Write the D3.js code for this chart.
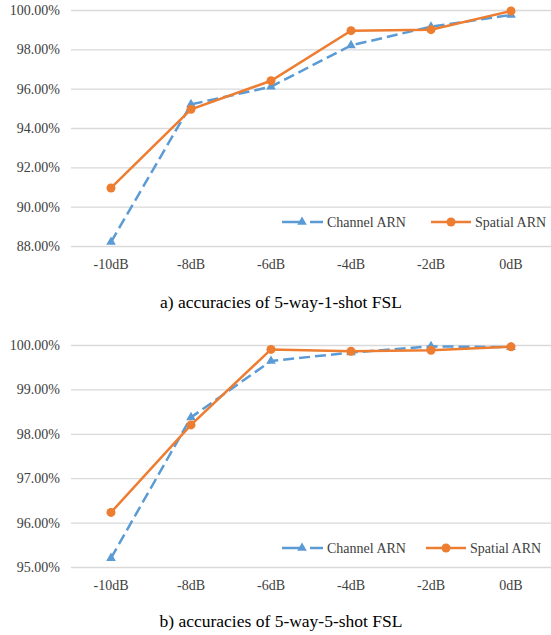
<!DOCTYPE html>
<html>
<head>
<meta charset="utf-8">
<script src="https://cdn.jsdelivr.net/npm/d3@7"></script>
<style>
  body { margin: 0; background: #fff; }
  svg { display: block; }
  svg text { font-family: "Liberation Serif", "DejaVu Serif", serif !important; }
  .grid line { stroke: #d9d9d9; stroke-width: 1.3; }
  .grid .domain { display: none; }
  .tick text { fill: #404040; font-size: 14px; }
</style>
</head>
<body>
<svg id="svg" width="551" height="635"></svg>
<script>
/* global d3 */

const snrLabels = ["-10dB", "-8dB", "-6dB", "-4dB", "-2dB", "0dB"];

// a) 5-way-1-shot
const channelOneShot = [88.2, 95.2, 96.1, 98.2, 99.15, 99.75];
const spatialOneShot = [90.95, 94.95, 96.4, 98.95, 99.0, 99.95];
const oneShotTicks = [88, 90, 92, 94, 96, 98, 100];

// b) 5-way-5-shot
const channelFiveShot = [95.2, 98.37, 99.64, 99.83, 99.97, 99.95];
const spatialFiveShot = [96.23, 98.2, 99.9, 99.86, 99.88, 99.96];
const fiveShotTicks = [95, 96, 97, 98, 99, 100];

const blue = "#5b9bd5";
const orange = "#ed7d31";

let svg = d3.select("#svg");

const x = d3.scaleBand().domain(snrLabels).range([71, 551]);

const drawPanel = (opts) => {
  const g = svg.append("g");
  const y = d3.scaleLinear().domain(opts.domain).range(opts.range);

  // horizontal gridlines
  g.append("g")
    .attr("class", "grid")
    .attr("transform", "translate(71,0)")
    .call(d3.axisLeft(y).tickValues(opts.ticks).tickSize(-480).tickFormat(""));

  // y labels
  g.append("g")
    .attr("transform", "translate(60,0)")
    .call(d3.axisLeft(y).tickValues(opts.ticks).tickSize(0).tickPadding(0)
      .tickFormat(d => d.toFixed(2) + "%"))
    .call(a => a.select(".domain").remove());

  // x labels
  g.append("g")
    .attr("transform", `translate(0,${opts.range[0]})`)
    .call(d3.axisBottom(x).tickSize(0).tickPadding(13))
    .call(a => a.select(".domain").remove());

  const line = d3.line()
    .x((d, i) => x(snrLabels[i]) + x.bandwidth() / 2)
    .y(d => y(d));

  // channel ARN - dashed, triangles
  g.append("path")
    .attr("d", line(opts.channel))
    .attr("fill", "none")
    .attr("stroke", blue)
    .attr("stroke-width", 2.5)
    .attr("stroke-dasharray", "11,5");

  g.selectAll(".tri")
    .data(opts.channel)
    .join("path")
    .attr("class", "tri")
    .attr("d", d3.symbol(d3.symbolTriangle, 40))
    .attr("transform", (d, i) => `translate(${x(snrLabels[i]) + x.bandwidth() / 2},${y(d)})`)
    .attr("fill", blue);

  // spatial ARN - solid, circles
  g.append("path")
    .attr("d", line(opts.spatial))
    .attr("fill", "none")
    .attr("stroke", orange)
    .attr("stroke-width", 2.5);

  g.selectAll(".dot")
    .data(opts.spatial)
    .join("circle")
    .attr("class", "dot")
    .attr("cx", (d, i) => x(snrLabels[i]) + x.bandwidth() / 2)
    .attr("cy", d => y(d))
    .attr("r", 4.5)
    .attr("fill", orange);

  // legend
  const lg = g.append("g").attr("transform", `translate(0,${opts.legendY})`);
  lg.append("line").attr("x1", 282).attr("x2", 304).attr("y1", 0).attr("y2", 0)
    .attr("stroke", blue).attr("stroke-width", 2.5);
  lg.append("line").attr("x1", 310).attr("x2", 323).attr("y1", 0).attr("y2", 0)
    .attr("stroke", blue).attr("stroke-width", 2.5);
  lg.append("path").attr("d", d3.symbol(d3.symbolTriangle, 40))
    .attr("transform", "translate(302,0)").attr("fill", blue);
  lg.append("text").attr("x", 327).attr("y", 5).attr("font-size", 14)
    .attr("fill", "#404040").text("Channel ARN");

  lg.append("line").attr("x1", opts.orangeX).attr("x2", opts.orangeX + 40)
    .attr("y1", 0).attr("y2", 0)
    .attr("stroke", orange).attr("stroke-width", 2.5);
  lg.append("circle").attr("cx", opts.orangeX + 20).attr("cy", 0).attr("r", 4.5)
    .attr("fill", orange);
  lg.append("text").attr("x", opts.orangeX + 44).attr("y", 5).attr("font-size", 14)
    .attr("fill", "#404040").text("Spatial ARN");

  // caption
  svg.append("text")
    .attr("x", 281)
    .attr("y", opts.captionY)
    .attr("text-anchor", "middle")
    .attr("font-size", 17.5)
    .attr("fill", "#000")
    .text(opts.caption);
};

drawPanel({
  domain: [88, 100], range: [246, 10], ticks: oneShotTicks,
  channel: channelOneShot, spatial: spatialOneShot,
  legendY: 222, orangeX: 431, captionY: 308,
  caption: "a) accuracies of 5-way-1-shot FSL"
});

drawPanel({
  domain: [95, 100], range: [567, 345], ticks: fiveShotTicks,
  channel: channelFiveShot, spatial: spatialFiveShot,
  legendY: 548, orangeX: 426, captionY: 627,
  caption: "b) accuracies of 5-way-5-shot FSL"
});
</script>
</body>
</html>
